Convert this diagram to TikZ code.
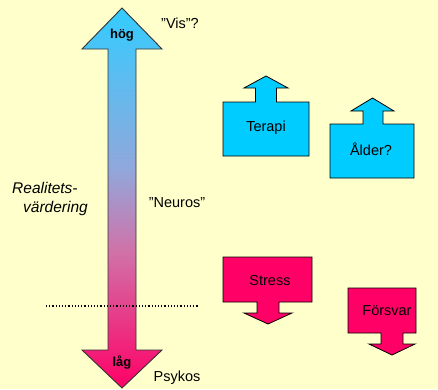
\documentclass[tikz,border=0pt]{standalone}
\usepackage{fontspec}
\setmainfont{Liberation Sans}
\definecolor{paper}{RGB}{255,255,204}
\definecolor{skyblock}{RGB}{0,204,255}
\definecolor{roseblock}{RGB}{255,0,102}
\definecolor{scaletop}{RGB}{51,204,255}
\definecolor{scalemidA}{RGB}{144,168,220}
\definecolor{scalemidB}{RGB}{208,114,168}
\definecolor{scalebottom}{RGB}{255,0,102}
% vertical gradient of the scale arrow (bottom -> top, 25bp..75bp covers the path)
\pgfdeclareverticalshading{scaleshade}{100bp}{%
  color(0bp)=(scalebottom); color(25bp)=(scalebottom);
  color(43bp)=(scalemidB); color(54bp)=(scalemidA);
  color(75bp)=(scaletop); color(100bp)=(scaletop)}
\tikzset{
  label/.style={inner sep=0pt, font=\fontsize{14.5}{17}\selectfont},
  endlabel/.style={inner sep=0pt, font=\fontsize{13}{15}\selectfont\bfseries},
  upblock/.style={fill=skyblock, draw=black, line width=0.8pt, line join=miter},
  downblock/.style={fill=roseblock, draw=black, line width=0.8pt, line join=miter},
  scalearrow/.style={shading=scaleshade, draw=black!80, line width=0.9pt},
  limitline/.style={dotted, line width=1.2pt, black}
}
\begin{document}
\begin{tikzpicture}[x=1pt,y=-1pt]
  \fill[paper] (0,0) rectangle (438,389);
  \useasboundingbox (0,0) rectangle (438,389);

  % double-headed scale arrow
  \path[scalearrow] (122,8) -- (162,49) -- (136,49) -- (136,350) -- (162,350)
    -- (122,388) -- (82,350) -- (108,350) -- (108,49) -- (82,49) -- cycle;

  % dotted threshold
  \coordinate (limA) at (46,306);
  \coordinate (limB) at (198,306);
  \draw[limitline] (limA) -- (limB);

  % block with arrow upwards: Terapi
  \path[upblock] (223,156) -- (223,102) -- (255.5,102) -- (255.5,88) -- (244,88)
    -- (266,76) -- (288,88) -- (276.5,88) -- (276.5,102) -- (309,102) -- (309,156) -- cycle;
  % block with arrow upwards: Ålder?
  \path[upblock] (330,178) -- (330,124) -- (363,124) -- (363,111) -- (351,111)
    -- (372.5,98) -- (394,111) -- (383,111) -- (383,124) -- (414,124) -- (414,178) -- cycle;
  % block with arrow downwards: Stress
  \path[downblock] (223,257) -- (312,257) -- (312,302) -- (279,302) -- (279,313)
    -- (292,313) -- (268,324) -- (244,313) -- (257,313) -- (257,302) -- (223,302) -- cycle;
  % block with arrow downwards: Försvar
  \path[downblock] (348,288) -- (416,288) -- (416,333) -- (403,333) -- (403,344)
    -- (415,344) -- (392,355) -- (369,344) -- (381,344) -- (381,333) -- (348,333) -- cycle;

  % labels
  \node[endlabel] (hog) at (122,35) {hög};
  \node[endlabel] (lag) at (122,363) {låg};
  \node[label] (vis) at (180,23) {”Vis”?};
  \node[label] (neuros) at (177,203) {"Neuros"};
  \node[label] (psykos) at (177,378) {Psykos};
  \node[label, align=left, anchor=west, font=\fontsize{15.5}{19}\selectfont\itshape]
    (realitet) at (12,199) {Realitets-\\\hspace*{11pt}värdering};
  \node[label] (terapi) at (266,128) {Terapi};
  \node[label] (alder) at (371,149) {Ålder?};
  \node[label] (stress) at (270,280) {Stress};
  \node[label] (forsvar) at (387,311) {Försvar};
\end{tikzpicture}
\end{document}
